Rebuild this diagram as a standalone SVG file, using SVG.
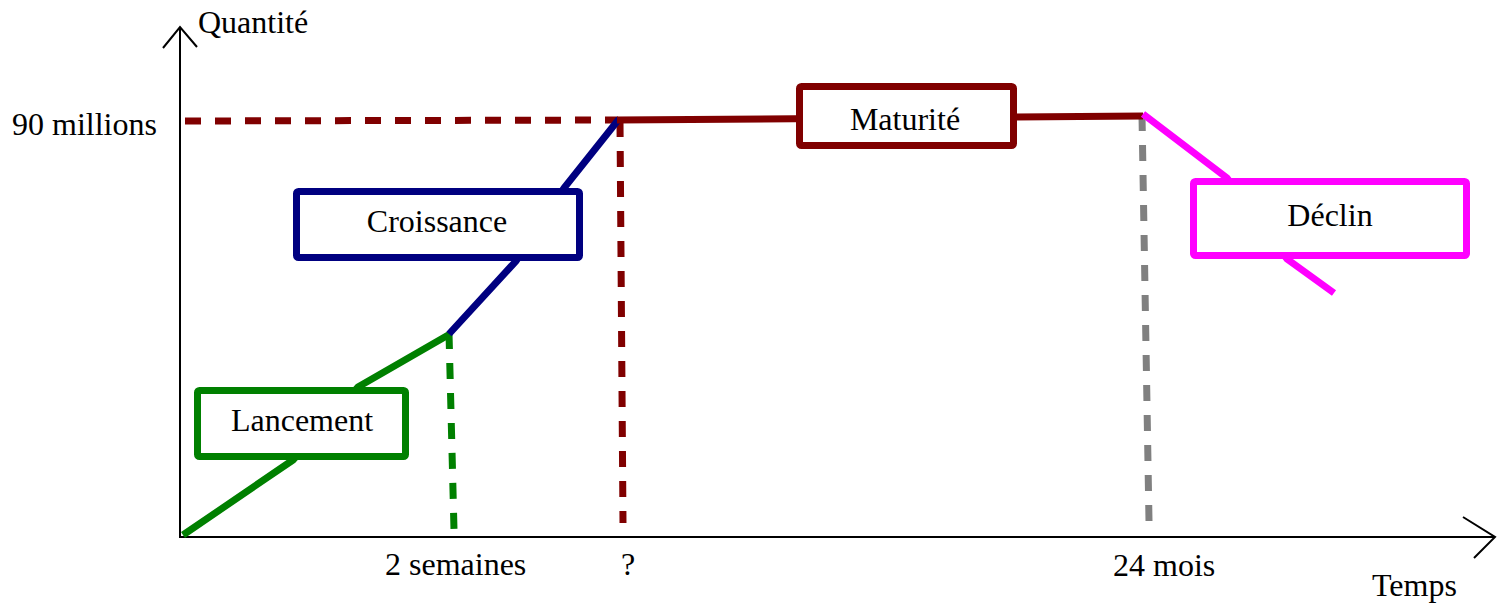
<svg xmlns="http://www.w3.org/2000/svg" width="1505" height="604" viewBox="0 0 1505 604">
<style>
text{font-family:"Liberation Serif","Times New Roman",serif;font-size:32px;fill:#000}
.axis{stroke:#000;stroke-width:2;fill:none}
.seg{stroke-width:7;fill:none;stroke-linecap:butt;stroke-linejoin:miter}
.dash{stroke-width:7;fill:none;stroke-dasharray:16 14}
.box{fill:#fff;stroke-width:7}
.mid{text-anchor:middle}
</style>
<rect width="1505" height="604" fill="#fff"/>
<g id="connectors">
  <g id="axes">
    <line class="axis" x1="180" y1="537" x2="180" y2="27"/>
    <polyline class="axis" points="163,48 180,27 197,47"/>
    <line class="axis" x1="179" y1="537" x2="1495" y2="537"/>
    <polyline class="axis" points="1463,517 1495,537 1474,558"/>
  </g>
  <line class="dash" stroke="#800000" x1="185" y1="121" x2="618" y2="120"/>
  <line class="dash" stroke="#008000" x1="449" y1="333" x2="454" y2="530"/>
  <line class="dash" stroke="#800000" x1="620" y1="121" x2="623" y2="523"/>
  <line class="dash" stroke="#808080" x1="1142" y1="115" x2="1149" y2="521"/>
  <polyline class="seg" stroke="#008000" points="183,535 293,460 358,387 450,334"/>
  <polyline class="seg" stroke="#000080" points="449,334 516,261 564,188 619,119"/>
  <line class="seg" stroke="#800000" x1="617" y1="120" x2="1143" y2="116"/>
  <polyline class="seg" stroke="#FF00FF" points="1143,114 1227,178 1287,259 1334,293"/>
</g>
<g id="lancement">
  <rect class="box" stroke="#008000" x="197.5" y="390.5" width="208" height="66" rx="2"/>
  <text class="mid" x="302" y="431">Lancement</text>
</g>
<g id="croissance">
  <rect class="box" stroke="#000080" x="296.5" y="191.5" width="283" height="66" rx="2"/>
  <text class="mid" x="437" y="232">Croissance</text>
</g>
<g id="maturite">
  <rect class="box" stroke="#800000" x="799.5" y="86.5" width="214" height="59" rx="2"/>
  <text class="mid" x="905" y="130">Maturité</text>
</g>
<g id="declin">
  <rect class="box" stroke="#FF00FF" x="1193.5" y="181.5" width="273" height="74" rx="2"/>
  <text class="mid" x="1330" y="226">Déclin</text>
</g>
<g id="labels">
  <text x="198" y="33">Quantité</text>
  <text x="12" y="135">90 millions</text>
  <text x="385" y="575">2 semaines</text>
  <text x="621" y="575">?</text>
  <text x="1113" y="576">24 mois</text>
  <text x="1372" y="596">Temps</text>
</g>
</svg>
